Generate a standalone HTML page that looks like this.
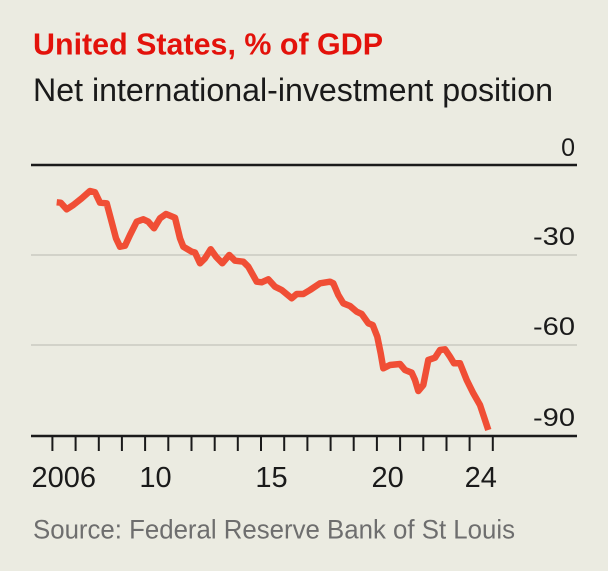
<!DOCTYPE html>
<html>
<head>
<meta charset="utf-8">
<style>
  html, body { margin: 0; padding: 0; background: #ebebe1; }
  svg { display: block; }
  text { font-family: "Liberation Sans", sans-serif; }
</style>
</head>
<body>
<svg width="608" height="571" viewBox="0 0 608 571" xmlns="http://www.w3.org/2000/svg">
  <rect x="0" y="0" width="608" height="571" fill="#ebebe1"/>

  <!-- Titles -->
  <text x="33" y="54.5" font-size="31" font-weight="bold" fill="#e3120b" textLength="350" lengthAdjust="spacingAndGlyphs">United States, % of GDP</text>
  <text x="33" y="101" font-size="32" fill="#1a1a1a" textLength="520" lengthAdjust="spacingAndGlyphs">Net international-investment position</text>

  <!-- Gridlines -->
  <line x1="31" y1="255" x2="577" y2="255" stroke="#c9c9c1" stroke-width="1.6"/>
  <line x1="31" y1="345" x2="577" y2="345" stroke="#c9c9c1" stroke-width="1.6"/>
  <line x1="31" y1="165" x2="577" y2="165" stroke="#1a1a1a" stroke-width="2.6"/>

  <!-- Y labels -->
  <text x="575" y="156" font-size="25" fill="#1a1a1a" text-anchor="end">0</text>
  <text x="575" y="245" font-size="25" fill="#1a1a1a" text-anchor="end" textLength="42" lengthAdjust="spacingAndGlyphs">-30</text>
  <text x="575" y="335" font-size="25" fill="#1a1a1a" text-anchor="end" textLength="42" lengthAdjust="spacingAndGlyphs">-60</text>
  <text x="575" y="426" font-size="25" fill="#1a1a1a" text-anchor="end" textLength="42" lengthAdjust="spacingAndGlyphs">-90</text>

  <!-- Data line -->
  <polyline fill="none" stroke="#f04e35" stroke-width="6.5" stroke-linejoin="round" stroke-linecap="butt"
    points="56.7,202.3 60.7,202.7 66.7,209.3 73.3,205 81.7,198.3 90,191 95,192.3 100,202.7 106.7,203.3 110.7,218.3 116,238.3 120,246.7 125,245.7 130,235 136.7,221.7 143.3,219.3 148.3,221.7 154,228.3 160,218.3 166,214 175,217.7 180,238.3 183.3,246.7 191.7,251.7 195,252.5 200,263.3 205,258.3 210.7,249.3 216,256.7 222.3,263.3 229.3,255 235,260.7 243.3,261.7 248.3,266.7 256.7,281.7 261.7,282.3 268.3,279.3 275,286.7 281.7,290 291.7,298.3 296.7,294 303.3,294 310,290 320,283.3 330,281.7 333.3,283.3 338.3,295 343.3,303.3 350,306 356.7,311.7 361.7,314 368.3,323.3 372.7,325 377.3,336.7 380.7,353.3 383.3,368.3 390,365 400,364 405,370 411.7,372.7 415,380 418.3,391 423.3,385 428.3,360 435,357.7 440,350 445,349.3 450,356.7 454,363.3 460,363.3 466.7,380 473.3,393.3 480,405 485,420 488.3,430"/>

  <!-- X axis -->
  <line x1="31" y1="436" x2="577" y2="436" stroke="#1a1a1a" stroke-width="2.6"/>
  <g stroke="#1a1a1a" stroke-width="2">
    <line x1="52.4" y1="436" x2="52.4" y2="451"/>
    <line x1="75.6" y1="436" x2="75.6" y2="451"/>
    <line x1="98.8" y1="436" x2="98.8" y2="451"/>
    <line x1="121.9" y1="436" x2="121.9" y2="451"/>
    <line x1="145.1" y1="436" x2="145.1" y2="451"/>
    <line x1="168.3" y1="436" x2="168.3" y2="451"/>
    <line x1="191.5" y1="436" x2="191.5" y2="451"/>
    <line x1="214.7" y1="436" x2="214.7" y2="451"/>
    <line x1="237.8" y1="436" x2="237.8" y2="451"/>
    <line x1="261.0" y1="436" x2="261.0" y2="451"/>
    <line x1="284.2" y1="436" x2="284.2" y2="451"/>
    <line x1="307.4" y1="436" x2="307.4" y2="451"/>
    <line x1="330.6" y1="436" x2="330.6" y2="451"/>
    <line x1="353.7" y1="436" x2="353.7" y2="451"/>
    <line x1="376.9" y1="436" x2="376.9" y2="451"/>
    <line x1="400.1" y1="436" x2="400.1" y2="451"/>
    <line x1="423.3" y1="436" x2="423.3" y2="451"/>
    <line x1="446.5" y1="436" x2="446.5" y2="451"/>
    <line x1="469.6" y1="436" x2="469.6" y2="451"/>
    <line x1="492.8" y1="436" x2="492.8" y2="451"/>
  </g>

  <!-- X labels -->
  <text x="63.8" y="487" font-size="29" fill="#1a1a1a" text-anchor="middle">2006</text>
  <text x="155.5" y="487" font-size="29" fill="#1a1a1a" text-anchor="middle">10</text>
  <text x="271.5" y="487" font-size="29" fill="#1a1a1a" text-anchor="middle">15</text>
  <text x="387.6" y="487" font-size="29" fill="#1a1a1a" text-anchor="middle">20</text>
  <text x="480.8" y="487" font-size="29" fill="#1a1a1a" text-anchor="middle">24</text>

  <!-- Source -->
  <text x="33" y="538.5" font-size="27" fill="#6e6e6e" textLength="482" lengthAdjust="spacingAndGlyphs">Source: Federal Reserve Bank of St Louis</text>
</svg>
</body>
</html>
